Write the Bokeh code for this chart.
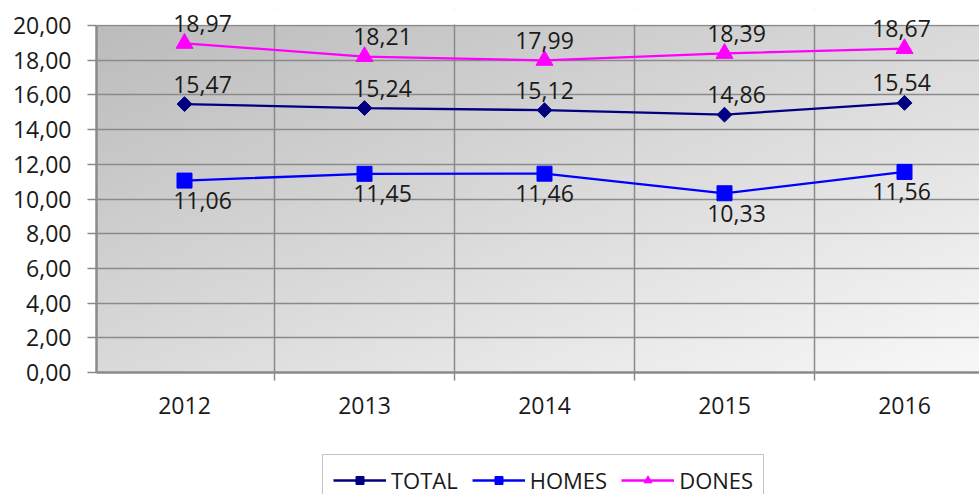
import numpy as np
from bokeh.plotting import figure
from bokeh.layouts import column
from bokeh.models import (Range1d, FixedTicker, Legend, LegendItem, ColumnDataSource, BoxAnnotation)
from bokeh.embed import file_html
from bokeh.resources import INLINE
from bokeh.core.properties import value

# ---- data ----
years = [2012, 2013, 2014, 2015, 2016]
total = [15.47, 15.24, 15.12, 14.86, 15.54]
homes = [11.06, 11.45, 11.46, 10.33, 11.56]
dones = [18.97, 18.21, 17.99, 18.39, 18.67]
y_ticks = [0, 2, 4, 6, 8, 10, 12, 14, 16, 18, 20]

# label horizontal nudges (style)
label_dx = [18, 18, 0, 12, -3]

FONT = "Open Sans"
TXT = "#1a1a1a"
GRID = "#8a8a8a"

FW = 883
PX_PER_UNIT = 347 / 20.0
EXTRA_TOP = 16  # white room above the plot area for data labels
x0 = 2012 - 88 / 180.0
x1 = x0 + FW / 180.0
ymax = y_ticks[-1]
y1 = ymax + EXTRA_TOP / PX_PER_UNIT

p = figure(frame_width=FW, frame_height=347 + EXTRA_TOP, min_border_left=96, min_border_right=0,
           min_border_top=25 - EXTRA_TOP, min_border_bottom=60,
           x_range=Range1d(x0, x1), y_range=Range1d(0, y1),
           output_backend="svg", toolbar_location=None,
           background_fill_color="white", border_fill_color="white")
p.outline_line_color = None

# gradient background image (darker top-left, lighter bottom-right)
ny, nx = 60, 120
u = np.linspace(0, 1, nx)[None, :]
v = np.linspace(0, 1, ny)[:, None]  # row 0 = bottom
d = ((1 - u) + v) / 2.0
lo, hi = 248, 188
g = (lo + (hi - lo) * d).astype(np.uint8)
img = np.empty((ny, nx), dtype=np.uint32)
view = img.view(dtype=np.uint8).reshape((ny, nx, 4))
view[:, :, 0] = g
view[:, :, 1] = g
view[:, :, 2] = g
view[:, :, 3] = 255
p.image_rgba(image=[img], x=x0, y=0, dw=x1 - x0, dh=ymax, level="image")

# grids
bounds = [years[0] - 0.5] + [y + 0.5 for y in years]
p.ygrid.ticker = FixedTicker(ticks=y_ticks)
p.ygrid.grid_line_color = GRID
p.ygrid.grid_line_width = 1.5
p.xgrid.ticker = FixedTicker(ticks=bounds)
p.xgrid.grid_line_color = GRID
p.xgrid.grid_line_width = 1.5

# white cover above the plot area (hides vertical grid lines above the top value)
p.add_layout(BoxAnnotation(bottom=ymax + 1.0 / PX_PER_UNIT, fill_color="white", fill_alpha=1,
                           line_alpha=0, level="underlay"))

# axes
p.yaxis.ticker = FixedTicker(ticks=y_ticks)
p.yaxis.bounds = (0, ymax)
p.yaxis.major_label_overrides = {t_: f"{t_:.2f}".replace(".", ",") for t_ in y_ticks}
p.xaxis.ticker = FixedTicker(ticks=years, minor_ticks=bounds)
p.xaxis.major_label_overrides = {y: str(y) for y in years}
for ax in (p.xaxis, p.yaxis):
    ax.axis_line_color = GRID
    ax.axis_line_width = 2.5
    ax.major_label_text_font = FONT
    ax.major_label_text_font_size = "23px"
    ax.major_label_text_color = TXT
    ax.major_tick_line_color = GRID
    ax.major_tick_line_width = 1.5
    ax.minor_tick_line_color = GRID
    ax.minor_tick_line_width = 1.5
p.yaxis.major_tick_in = 0
p.yaxis.major_tick_out = 9
p.yaxis.minor_tick_out = 0
p.yaxis.minor_tick_in = 0
p.yaxis.major_label_standoff = 16
p.xaxis.major_tick_in = 0
p.xaxis.major_tick_out = 0
p.xaxis.minor_tick_in = 0
p.xaxis.minor_tick_out = 8
p.xaxis.major_label_standoff = 16

series = [
    ("TOTAL", total, "#000080", "square", 10.5, 0.785398, "above"),
    ("HOMES", homes, "#0000ff", "square", 15, 0.0, "below"),
    ("DONES", dones, "#ff00ff", "triangle", 17, 0.0, "above"),
]

# legend figure (separate strip below the chart); its frame is aligned with the chart's frame
lf = figure(width=979, height=62, min_border=0, output_backend="svg", toolbar_location=None,
            x_range=Range1d(0, 1), y_range=Range1d(0, 1),
            background_fill_color="white", border_fill_color="white")
lf.outline_line_color = None
lf.axis.visible = False
lf.grid.visible = False

items = []
for name, vals, col, mk, sz, ang, pos in series:
    src = ColumnDataSource(dict(x=years, y=vals,
                                lab=[f"{v_:.2f}".replace(".", ",") for v_ in vals],
                                dx=label_dx))
    p.line("x", "y", source=src, line_color=col, line_width=2.3)
    p.scatter("x", "y", source=src, marker=mk, size=sz, angle=ang,
              fill_color=col, line_color=col)
    p.text("x", "y", text="lab", source=src, x_offset="dx",
           y_offset=(-20 if pos == "above" else 20),
           text_align="center", text_baseline="alphabetic",
           text_font=value(FONT), text_font_size="23px", text_color=TXT)
    # legend proxies: same data, lying outside the legend strip's ranges (not visible)
    ln = lf.line("x", "y", source=src, line_color=col, line_width=2.3)
    sc = lf.scatter("x", "y", source=src, marker=mk, size=sz, angle=ang,
                    fill_color=col, line_color=col)
    items.append(LegendItem(label=name, renderers=[ln, sc]))

legend = Legend(items=items, orientation="horizontal", location=(226, -12),
                glyph_width=53, glyph_height=20, label_standoff=5, spacing=14,
                padding=10, margin=0,
                label_text_font=FONT, label_text_font_size="22px", label_text_color=TXT,
                border_line_color="#8a8a8a", border_line_width=1.5,
                background_fill_color="white", background_fill_alpha=1)
lf.add_layout(legend, "center")

layout = column(p, lf, spacing=0)
open("out.html", "w").write(file_html(layout, INLINE))
